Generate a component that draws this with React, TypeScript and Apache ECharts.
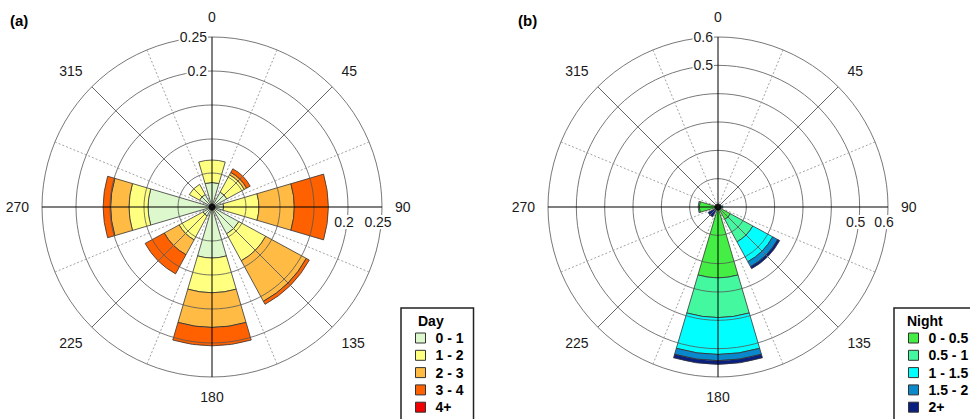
import React, { useEffect, useRef } from "react";
import * as echarts from "echarts";

// Wind directions (sector centres, clockwise from north)
const directions = ["0", "45", "90", "135", "180", "225", "270", "315"];

// Day: frequency per direction for each wind-speed class
const dayClasses = ["0 - 1", "1 - 2", "2 - 3", "3 - 4", "4+"];
const dayColors = ["#dcf8cc", "#ffff80", "#ffbb44", "#ff6000", "#f00000"];
const day0to1 = [0.036, 0.025, 0.017, 0.045, 0.075, 0.015, 0.094, 0.021];
const day1to2 = [0.033, 0.029, 0.052, 0.045, 0.051, 0.04, 0.028, 0.017];
const day2to3 = [0, 0.004, 0.052, 0.068, 0.051, 0.025, 0.027, 0];
const day3to4 = [0, 0.006, 0.05, 0.005, 0.027, 0.032, 0.011, 0];
const day4plus = [0, 0, 0, 0, 0, 0, 0, 0];

// Night: frequency per direction for each wind-speed class
const nightClasses = ["0 - 0.5", "0.5 - 1", "1 - 1.5", "1.5 - 2", "2+"];
const nightColors = ["#44ee44", "#44f8a0", "#00ffff", "#0a88cc", "#0a2080"];
const night0to05 = [0, 0, 0.004, 0.05, 0.25, 0.006, 0.066, 0];
const night05to1 = [0, 0, 0.005, 0.09, 0.14, 0.005, 0.004, 0];
const night1to15 = [0, 0, 0.008, 0.08, 0.13, 0.004, 0, 0];
const night15to2 = [0, 0, 0, 0.02, 0.022, 0.003, 0, 0];
const night2plus = [0, 0, 0, 0.008, 0.013, 0.022, 0, 0];

// Radial scales and the radii that carry a label
const dayRadiusMax = 0.25;
const dayRadiusStep = 0.05;
const dayRadiusLabels = [0.2, 0.25];
const nightRadiusMax = 0.6;
const nightRadiusStep = 0.1;
const nightRadiusLabels = [0.5, 0.6];

const FONT = 'Arial, "Liberation Sans", sans-serif';
const CY = 207;
const R = 170;

function labelFor(list: number[]) {
  return (v: number) => {
    const hit = list.find((l) => Math.abs(l - v) < 1e-9);
    return hit === undefined ? "" : String(hit);
  };
}

function buildRose(
  k: number,
  cx: number,
  max: number,
  step: number,
  labelled: number[],
  classes: string[],
  colors: string[],
  values: number[][],
  stackName: string
) {
  const base = 3 * k;
  const center = [cx, CY];
  const polar = [0, 1, 2].map(() => ({ center, radius: R }));

  const angleAxis = [
    {
      polarIndex: base,
      type: "category",
      data: directions,
      startAngle: 90 + 22.5,
      clockwise: true,
      boundaryGap: true,
      z: 5,
      axisLine: { show: false },
      axisTick: { show: false },
      axisLabel: { show: false },
      splitLine: { show: true, lineStyle: { color: "#8c8c8c", type: [2, 2], width: 0.8 } },
    },
    {
      polarIndex: base + 1,
      type: "value",
      min: 0,
      max: 360,
      interval: 45,
      startAngle: 90,
      clockwise: true,
      z: 6,
      axisLine: { show: false },
      axisTick: { show: false },
      axisLabel: {
        show: true,
        margin: 13,
        color: "#1a1a1a",
        fontSize: 14,
        fontFamily: FONT,
        formatter: (v: number) => (v >= 360 ? "" : String(v)),
      },
      splitLine: { show: true, lineStyle: { color: ["#000", "#666"], width: 1 } },
    },
    {
      polarIndex: base + 2,
      type: "value",
      min: 0,
      max: 360,
      startAngle: 0,
      clockwise: true,
      show: false,
    },
  ];

  const radiusAxis = [
    {
      polarIndex: base,
      type: "value",
      min: 0,
      max,
      interval: step,
      z: 5,
      axisLine: { show: false },
      axisTick: { show: false },
      axisLabel: { show: false },
      splitLine: { show: true, lineStyle: { color: "#555", width: 0.8 } },
    },
    {
      polarIndex: base + 1,
      type: "value",
      min: 0,
      max,
      interval: step,
      z: 7,
      axisLine: { show: false },
      axisTick: { show: false },
      splitLine: { show: false },
      axisLabel: {
        show: true,
        margin: 4,
        color: "#1a1a1a",
        fontSize: 14,
        fontFamily: FONT,
        backgroundColor: "#fff",
        padding: [0, 1, 0, 1],
        formatter: labelFor(labelled),
      },
    },
    {
      polarIndex: base + 2,
      type: "value",
      min: 0,
      max,
      interval: step,
      z: 7,
      axisLine: { show: false },
      axisTick: { show: false },
      splitLine: { show: false },
      axisLabel: {
        show: true,
        margin: -8,
        verticalAlign: "top",
        align: "center",
        color: "#1a1a1a",
        fontSize: 14,
        fontFamily: FONT,
        backgroundColor: "#fff",
        padding: [0, 8, 0, 0],
        formatter: labelFor(labelled),
      },
    },
  ];

  const series: any[] = classes.map((cls, i) => ({
    type: "bar",
    name: cls,
    coordinateSystem: "polar",
    polarIndex: base,
    stack: stackName,
    barCategoryGap: "27%",
    data: values[i].map((v) => (v === 0 ? null : v)),
    itemStyle: { color: colors[i], borderColor: "#333", borderWidth: 0.8 },
    z: 2,
  }));

  // black hub at the centre of the rose
  series.push({
    type: "scatter",
    name: stackName + "-hub",
    coordinateSystem: "polar",
    polarIndex: base + 1,
    data: [[0, 0]],
    symbol: "circle",
    symbolSize: 7,
    itemStyle: { color: "#000" },
    z: 10,
    silent: true,
  });

  return { polar, angleAxis, radiusAxis, series };
}

function legendFor(classes: string[], left: number) {
  return {
    data: classes,
    orient: "vertical",
    left,
    top: 308,
    height: 200,
    padding: [23, 10, 8, 14],
    itemWidth: 10,
    itemHeight: 10,
    itemGap: 3.3,
    icon: "rect",
    selectedMode: false,
    borderColor: "#222",
    borderWidth: 1.5,
    itemStyle: { borderColor: "#333", borderWidth: 1 },
    textStyle: {
      fontFamily: FONT,
      fontSize: 14,
      fontWeight: "bold",
      color: "#000",
      lineHeight: 14,
      padding: [0, 0, 0, 5],
    },
  };
}

export default function App() {
  const ref = useRef<HTMLDivElement>(null);

  useEffect(() => {
    if (!ref.current) return;
    const chart = echarts.init(ref.current, undefined, { renderer: "svg" });

    const day = buildRose(
      0, 212, dayRadiusMax, dayRadiusStep, dayRadiusLabels,
      dayClasses, dayColors,
      [day0to1, day1to2, day2to3, day3to4, day4plus], "day"
    );
    const night = buildRose(
      1, 718, nightRadiusMax, nightRadiusStep, nightRadiusLabels,
      nightClasses, nightColors,
      [night0to05, night05to1, night1to15, night15to2, night2plus], "night"
    );

    const txt = (text: string, left: number, top: number, size: number) => ({
      type: "text",
      left,
      top,
      z: 20,
      style: { text, fontFamily: FONT, fontSize: size, fontWeight: "bold", fill: "#000" },
    });

    chart.setOption({
      animation: false,
      backgroundColor: "#fff",
      polar: [...day.polar, ...night.polar],
      angleAxis: [...day.angleAxis, ...night.angleAxis],
      radiusAxis: [...day.radiusAxis, ...night.radiusAxis],
      series: [...day.series, ...night.series],
      legend: [legendFor(dayClasses, 401), legendFor(nightClasses, 894)],
      graphic: [
        txt("(a)", 10, 13, 15),
        txt("(b)", 518, 13, 15),
        txt("Day", 418, 314, 14),
        txt("Night", 907, 314, 14),
      ],
    });

    return () => chart.dispose();
  }, []);

  return (
    <div
      ref={ref}
      style={{ position: "absolute", left: 0, top: 0, width: 970, height: 419 }}
    />
  );
}
